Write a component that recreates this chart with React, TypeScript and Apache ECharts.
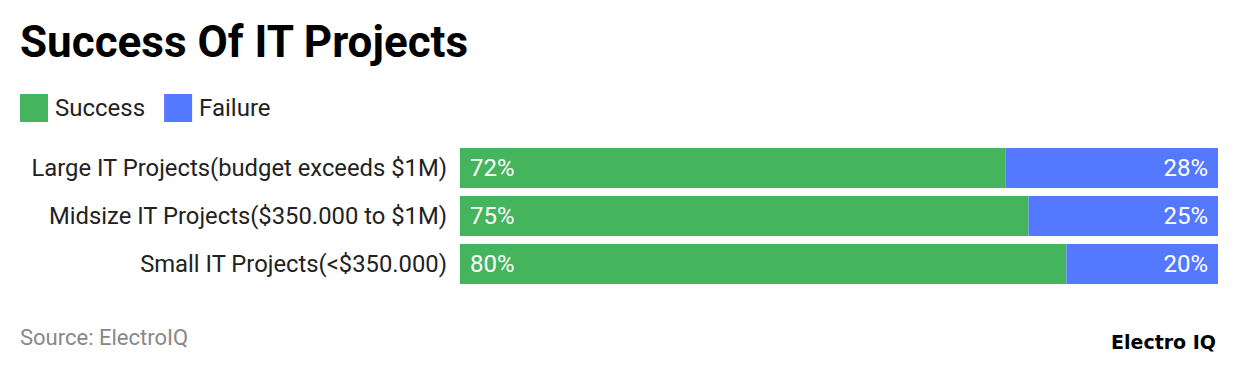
import React, { useEffect, useRef } from "react";
import * as echarts from "echarts";

const categories = [
  "Large IT Projects(budget exceeds $1M)",
  "Midsize IT Projects($350.000 to $1M)",
  "Small IT Projects(<$350.000)",
];
const successValues = [72, 75, 80];
const failureValues = [28, 25, 20];

export default function App() {
  const ref = useRef<HTMLDivElement>(null);
  useEffect(() => {
    if (!ref.current) return;
    const chart = echarts.init(ref.current, null, { renderer: "svg" });
    chart.setOption({
      animation: false,
      backgroundColor: "#ffffff",
      title: {
        text: "Success Of IT Projects",
        left: 20,
        top: 20,
        padding: 0,
        textStyle: { fontFamily: "Roboto", fontWeight: "bold", fontSize: 44, color: "#000" },
      },
      legend: {
        left: 20,
        top: 94,
        padding: 0,
        itemWidth: 28,
        itemHeight: 28,
        itemGap: 19,
        icon: "rect",
        textStyle: { fontFamily: "Roboto", fontSize: 24, color: "#222", padding: [0, 0, 0, 2] },
        data: ["Success", "Failure"],
      },
      grid: { left: 460, right: 22, top: 144, bottom: 84 },
      xAxis: {
        type: "value",
        min: 0,
        max: 100,
        show: false,
      },
      yAxis: {
        type: "category",
        data: categories,
        inverse: true,
        axisLine: { show: false },
        axisTick: { show: false },
        axisLabel: { fontFamily: "Roboto", fontSize: 23.8, color: "#222", margin: 13 },
      },
      series: [
        {
          name: "Success",
          type: "bar",
          stack: "total",
          data: successValues,
          barWidth: 40,
          itemStyle: { color: "#44B45D" },
          label: {
            show: true,
            position: "insideLeft",
            distance: 10,
            formatter: "{c}%",
            color: "#fff",
            fontFamily: "Roboto",
            fontSize: 24,
          },
        },
        {
          name: "Failure",
          type: "bar",
          stack: "total",
          data: failureValues,
          barWidth: 40,
          itemStyle: { color: "#5479FF" },
          label: {
            show: true,
            position: "insideRight",
            distance: 10,
            formatter: "{c}%",
            color: "#fff",
            fontFamily: "Roboto",
            fontSize: 24,
          },
        },
      ],
      graphic: [
        {
          type: "text",
          left: 20,
          top: 326,
          style: { text: "Source: ElectroIQ", fontFamily: "Roboto", fontSize: 22, fill: "#888" },
        },
        {
          type: "text",
          right: 24,
          top: 332,
          style: { text: "Electro IQ", fontFamily: "DejaVu Sans", fontWeight: "bold", fontSize: 19, fill: "#000" },
        },
      ],
    });
    return () => chart.dispose();
  }, []);
  return (
    <div
      ref={ref}
      style={{ position: "absolute", left: 0, top: 0, width: 1240, height: 372 }}
    />
  );
}
